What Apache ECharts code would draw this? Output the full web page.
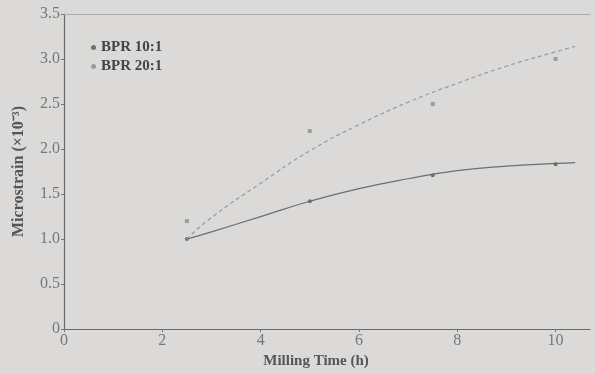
<!DOCTYPE html>
<html>
<head>
<meta charset="utf-8">
<script src="https://cdn.jsdelivr.net/npm/echarts@6/dist/echarts.min.js"></script>
<style>
  html, body { margin: 0; padding: 0; background: #dcdad8; }
  #chart { width: 595px; height: 374px; }
</style>
</head>
<body>
<div id="chart"></div>
<script>
// measured points
var millTime = [2.5, 5, 7.5, 10];
var bpr10 = [1.0, 1.42, 1.71, 1.83];
var bpr20 = [1.2, 2.2, 2.5, 3.0];

// fitted curves
var fitX = [2.5, 3, 4, 5, 6, 7, 8, 9, 10, 10.4];
var fit10 = [1.0, 1.08, 1.25, 1.42, 1.56, 1.67, 1.76, 1.81, 1.84, 1.85];
var fit20 = [1.0, 1.24, 1.62, 1.98, 2.27, 2.52, 2.73, 2.92, 3.08, 3.14];

var yTickLabels = ['0', '0.5', '1.0', '1.5', '2.0', '2.5', '3.0', '3.5'];

function pairs(xs, ys) {
    return xs.map(function (x, i) { return [x, ys[i]]; });
}

var myChart = echarts.init(document.getElementById('chart'));
var serif = 'Liberation Serif';

option = {
    backgroundColor: '#dcdad8',
    animation: false,
    textStyle: { fontFamily: serif },
    grid: {
        left: 64,
        right: 5,
        top: 14,
        bottom: 39
    },
    legend: {
        left: 86,
        top: 35,
        orient: 'vertical',
        itemWidth: 5,
        itemHeight: 5,
        itemGap: 4,
        data: [
            { name: 'BPR 10:1', icon: 'circle' },
            { name: 'BPR 20:1', icon: 'circle' }
        ],
        textStyle: {
            fontFamily: serif,
            fontWeight: 'bold',
            fontSize: 15,
            color: '#444'
        }
    },
    xAxis: [{
        type: 'value',
        min: 0,
        max: 10.7,
        interval: 2,
        name: 'Milling Time (h)',
        nameLocation: 'middle',
        nameGap: 22,
        nameTextStyle: {
            fontFamily: serif,
            fontWeight: 'bold',
            fontSize: 15,
            color: '#555',
            padding: [0, 22, 0, 0]
        },
        axisLine: { lineStyle: { color: '#6a6a6a', width: 1.2 } },
        axisTick: { show: true, length: 3, lineStyle: { color: '#777' } },
        axisLabel: {
            showMaxLabel: false,
            fontFamily: serif,
            fontSize: 16,
            color: '#777',
            margin: 4
        },
        splitLine: { show: false }
    }, {
        type: 'value',
        position: 'top',
        min: 0,
        max: 10.7,
        axisLine: { show: true, lineStyle: { color: '#aaa', width: 1 } },
        axisTick: { show: false },
        axisLabel: { show: false },
        splitLine: { show: false }
    }],
    yAxis: {
        type: 'value',
        min: 0,
        max: 3.5,
        interval: 0.5,
        name: 'Microstrain (×10⁻³)',
        nameLocation: 'middle',
        nameGap: 37,
        nameTextStyle: {
            fontFamily: serif,
            fontWeight: 'bold',
            fontSize: 16,
            color: '#555'
        },
        axisLine: { show: true, lineStyle: { color: '#6a6a6a', width: 1.2 } },
        axisTick: { show: true, length: 3, lineStyle: { color: '#777' } },
        axisLabel: {
            fontFamily: serif,
            fontSize: 16,
            color: '#777',
            margin: 4,
            formatter: function (v) {
                return yTickLabels[Math.round(v / 0.5)];
            }
        },
        splitLine: { show: false }
    },
    series: [
        {
            name: 'fit 10',
            type: 'line',
            smooth: true,
            showSymbol: false,
            silent: true,
            data: pairs(fitX, fit10),
            lineStyle: { color: '#6e6e6e', width: 1.2 }
        },
        {
            name: 'fit 20',
            type: 'line',
            smooth: true,
            showSymbol: false,
            silent: true,
            data: pairs(fitX, fit20),
            lineStyle: { color: '#9a9a9a', width: 1.2, type: [4, 3] }
        },
        {
            name: 'BPR 10:1',
            type: 'scatter',
            symbol: 'circle',
            symbolSize: 4,
            data: pairs(millTime, bpr10),
            itemStyle: { color: '#555' }
        },
        {
            name: 'BPR 20:1',
            type: 'scatter',
            symbol: 'rect',
            symbolSize: 4,
            data: pairs(millTime, bpr20),
            itemStyle: { color: '#8c8c8c' }
        }
    ]
};
myChart.setOption(option);
</script>
</body>
</html>
